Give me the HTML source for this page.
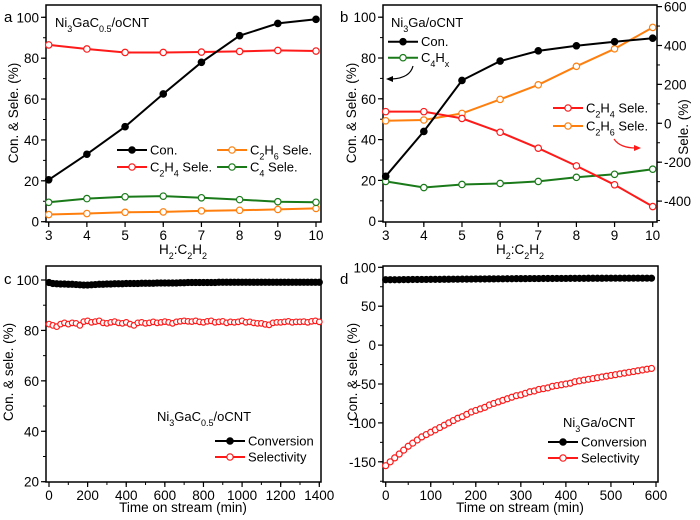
<!DOCTYPE html>
<html><head><meta charset="utf-8"><style>
body{margin:0;background:#fff;}
svg{display:block;font-family:"Liberation Sans",Arial,sans-serif;}
</style></head><body>
<svg id="s" width="700" height="520"></svg>
<script>
// ---- Panel a data ----
const ratios = [3,4,5,6,7,8,9,10];
const aCon = [20.5,33,46.5,62.5,78,91,97,99];
const aC2H4 = [86.5,84.5,82.8,82.8,83,83.3,83.8,83.5];
const aC2H6 = [3.5,4,4.6,4.8,5.3,5.6,6,6.5];
const aC4 = [9.5,11.3,12.2,12.5,11.7,10.8,9.8,9.5];
const aYTicks = [0,20,40,60,80,100];
// ---- Panel b data ----
const bCon = [22,44,69,78.5,83.5,86,88,89.7];
const bC4Hx = [19.5,16.5,18,18.5,19.5,21.5,23,25.5];
const bC2H4 = [60,60,25,-46,-128,-219,-316,-428];
const bC2H6 = [13,17,51,123,198,293,383,493];
const bYTicks = [0,20,40,60,80,100];
const bRTicks = [-400,-200,0,200,400,600];
// ---- Panel c data ----
const cTime = [0,20,40,60,80,100,120,140,160,180,200,220,240,260,280,300,320,340,360,380,400,420,440,460,480,500,520,540,560,580,600,620,640,660,680,700,720,740,760,780,800,820,840,860,880,900,920,940,960,980,1000,1020,1040,1060,1080,1100,1120,1140,1160,1180,1200,1220,1240,1260,1280,1300,1320,1340,1360,1380,1400];
const cConv = [99,98.6,98.5,98.4,98.4,98.3,98.3,98.2,98.1,98,98,98.1,98.2,98.3,98.3,98.4,98.4,98.5,98.5,98.5,98.6,98.6,98.6,98.6,98.7,98.7,98.7,98.7,98.8,98.8,98.8,98.8,98.8,98.8,98.9,98.9,99,99,99,99,99,99,99,99,99.1,99.1,99.1,99.1,99.1,99.1,99.1,99.1,99.1,99.1,99.1,99.1,99.1,99.1,99.1,99.1,99.1,99.1,99.1,99.1,99.1,99.1,99.1,99.1,99.1,99.1,99.1];
const cSel = [82.5,82,81.5,82.5,83,82.5,83,82.8,82,83.5,83.8,83.2,83.5,83.8,83,82.8,83.2,83.5,83,82.8,83.2,82.5,82,83,83.2,82.8,83,83.4,83,83.2,83.5,83.2,82.8,83.4,83.6,83.8,83.6,83.5,83.8,83.4,83.2,83.6,83.8,83.2,83.4,83.6,83,83.4,83.2,83.4,83.8,83.2,83.4,83,82.8,82.8,82.4,82.2,83,83.2,83.2,83.4,83.6,83.2,83.4,83.4,83.5,83.2,83.6,83.8,83.4];
const cYTicks = [20,40,60,80,100];
const cXTicks = [0,200,400,600,800,1000,1200,1400];
// ---- Panel d data ----
const dTime = [0,10,20,30,40,50,60,70,80,90,100,110,120,130,140,150,160,170,180,190,200,210,220,230,240,250,260,270,280,290,300,310,320,330,340,350,360,370,380,390,400,410,420,430,440,450,460,470,480,490,500,510,520,530,540,550,560,570,580,590];
const dConv = [84,84,84,84,84.2,84.2,84.3,84.3,84.4,84.4,84.5,84.5,84.5,84.6,84.6,84.7,84.7,84.8,84.8,84.9,85,85,85,85.1,85.1,85.2,85.2,85.3,85.3,85.4,85.4,85.4,85.5,85.5,85.5,85.6,85.6,85.6,85.7,85.7,85.7,85.8,85.8,85.8,85.8,85.9,85.9,85.9,85.9,86,86,86,86,86,86,86,86,86,86,86];
const dSel = [-155,-150,-145,-140,-135,-130,-126,-122,-118,-115,-112,-109,-106,-103,-100,-97,-94,-92,-89,-86,-84,-82,-80,-77,-75,-73,-71,-69,-67,-65,-64,-62,-60,-59,-57,-56,-55,-53,-52,-51,-50,-49,-47,-46,-45,-44,-43,-42,-41,-40,-39,-38,-37,-36,-35,-34,-33,-32,-31,-30];
const dYTicks = [-150,-100,-50,0,50,100];
const dXTicks = [0,100,200,300,400,500,600];

const NS="http://www.w3.org/2000/svg";
const S=document.getElementById('s');
function mk(tag,at,parent){const e=document.createElementNS(NS,tag);for(const k in at)e.setAttribute(k,at[k]);(parent||S).appendChild(e);return e;}
function txt(x,y,html,o){o=o||{};const t=mk('text',{x:x,y:y,'font-size':o.fs||13.5,'text-anchor':o.anchor||'start',fill:o.fill||'#000'});if(o.rot)t.setAttribute('transform','rotate('+o.rot+' '+x+' '+y+')');t.innerHTML=html;return t;}

const aX=v=>48.7+(v-3)*(267.3/7), aY=v=>221.7-v*2.044;
const bX=v=>385.7+(v-3)*(267/7), bY=v=>221.2-v*2.04, bR=v=>123.3-v*0.1945;
const cX=v=>49+v*(270.3/1400), cY=v=>481.7-(v-20)*(201.7/80);
const dX=v=>385.7+v*(270.3/600), dY=v=>267.3-(v-100)*0.778;

function box(x1,y1,x2,y2,name){const r=mk('rect',{x:x1,y:y1,width:x2-x1,height:y2-y1,fill:'none',stroke:'#000','stroke-width':1.5});
}
function xticks(vals,sx,yb,minorStep,lo,hi,name){
  for(let v=lo;v<=hi+1e-9;v+=minorStep){mk('line',{x1:sx(v),x2:sx(v),y1:yb,y2:yb+3,stroke:'#000','stroke-width':1});}
  vals.forEach(v=>{mk('line',{x1:sx(v),x2:sx(v),y1:yb,y2:yb+5,stroke:'#000','stroke-width':1.2});
    const t=txt(sx(v),yb+18,String(v),{anchor:'middle'});});
}
function yticks(vals,sy,xl,minorStep,lo,hi,name,right){
  const d=right?1:-1;
  for(let v=lo;v<=hi+1e-9;v+=minorStep){mk('line',{x1:xl,x2:xl+3*d,y1:sy(v),y2:sy(v),stroke:'#000','stroke-width':1});}
  vals.forEach(v=>{mk('line',{x1:xl,x2:xl+5*d,y1:sy(v),y2:sy(v),stroke:'#000','stroke-width':1.2});
    const t=txt(right?xl+7:xl-7,sy(v)+5,String(v),{anchor:right?'start':'end'});});
}
function series(xs,ys,sx,sy,color,filled,name,r,lw){
  const g=mk('g',{});
  const pts=xs.map((x,i)=>sx(x).toFixed(1)+','+sy(ys[i]).toFixed(1)).join(' ');
  mk('polyline',{points:pts,fill:'none',stroke:color,'stroke-width':lw||2},g);
  xs.forEach((x,i)=>{const c=mk('circle',{cx:sx(x),cy:sy(ys[i]),r:r||3.2,fill:filled?color:'#fff',stroke:color,'stroke-width':1.2},g);
    });
}
function legend(x,y,color,filled,label,name){
  const g=mk('g',{});
  mk('line',{x1:x,x2:x+30,y1:y,y2:y,stroke:color,'stroke-width':2},g);
  mk('circle',{cx:x+15,cy:y,r:3.2,fill:filled?color:'#fff',stroke:color,'stroke-width':1.2},g);
  const t=txt(x+33,y+4.5,label,{fs:13});g.appendChild(t);
}
const sub=s=>'<tspan font-size="9" baseline-shift="sub">'+s+'</tspan>';

// ===== Panel a =====
box(46,5,321,222,'panel-a-plot-area');
xticks(ratios,aX,222,1,3,10,'a-x');
yticks(aYTicks,aY,46,10,0,100,'a-y');
txt(4,22,'a',{fs:15});
txt(55,27,'Ni'+sub('3')+'GaC'+sub('0.5')+'/oCNT',{fs:13});
txt(183,254,'H'+sub('2')+':C'+sub('2')+'H'+sub('2'),{anchor:'middle'});
txt(18,113,'Con. &amp; Sele. (%)',{anchor:'middle',rot:-90});
series(ratios,aC2H6,aX,aY,'#ff7f0e',false,'a-c2h6-series');
series(ratios,aC4,aX,aY,'#1a7a1a',false,'a-c4-series');
series(ratios,aC2H4,aX,aY,'#ff1a1a',false,'a-c2h4-series');
series(ratios,aCon,aX,aY,'#000',true,'a-conversion-series');
legend(117,150,'#000',true,'Con.','a-legend-con');
legend(217,150,'#ff7f0e',false,'C'+sub('2')+'H'+sub('6')+' Sele.','a-legend-c2h6');
legend(117,167,'#ff1a1a',false,'C'+sub('2')+'H'+sub('4')+' Sele.','a-legend-c2h4');
legend(217,167,'#1a7a1a',false,'C'+sub('4')+' Sele.','a-legend-c4');

// ===== Panel b =====
box(383,5,657,222,'panel-b-plot-area');
xticks(ratios,bX,222,1,3,10,'b-x');
yticks(bYTicks,bY,383,10,0,100,'b-y');
yticks(bRTicks,bR,657,100,-500,600,'b-right-y',true);
txt(340,22,'b',{fs:15});
txt(391,27,'Ni'+sub('3')+'Ga/oCNT',{fs:13});
txt(520,254,'H'+sub('2')+':C'+sub('2')+'H'+sub('2'),{anchor:'middle'});
txt(356,113,'Con. &amp; Sele. (%)',{anchor:'middle',rot:-90});
txt(688,127,'Sele. (%)',{anchor:'middle',rot:-90});
series(ratios,bC4Hx,bX,bY,'#1a7a1a',false,'b-c4hx-series');
series(ratios,bC2H6,bX,bR,'#ff7f0e',false,'b-c2h6-series');
series(ratios,bC2H4,bX,bR,'#ff1a1a',false,'b-c2h4-series');
series(ratios,bCon,bX,bY,'#000',true,'b-conversion-series');
legend(388,41.7,'#000',true,'Con.','b-legend-con');
legend(388,57.7,'#1a7a1a',false,'C'+sub('4')+'H'+sub('x'),'b-legend-c4hx');
legend(553,108,'#ff1a1a',false,'C'+sub('2')+'H'+sub('4')+' Sele.','b-legend-c2h4');
legend(553,126,'#ff7f0e',false,'C'+sub('2')+'H'+sub('6')+' Sele.','b-legend-c2h6');
mk('path',{d:'M413,66 Q410,78 392,79',fill:'none',stroke:'#000','stroke-width':1.2});
mk('path',{d:'M386,79 l7,-3 l0,6 z',fill:'#000'});
mk('path',{d:'M614,139 Q620,148 636,148',fill:'none',stroke:'#ff1a1a','stroke-width':1.2});
mk('path',{d:'M641,148 l-7,-3 l0,6 z',fill:'#ff1a1a'});

// ===== Panel c =====
box(46,266,321,482,'panel-c-plot-area');
xticks(cXTicks,cX,482,100,0,1400,'c-x');
yticks(cYTicks,cY,46,10,20,100,'c-y');
txt(4,284,'c',{fs:15});
txt(183,512,'Time on stream (min)',{anchor:'middle'});
txt(13,372,'Con. &amp; sele. (%)',{anchor:'middle',rot:-90});
series(cTime,cConv,cX,cY,'#000',true,'c-conversion-series',3,2.5);
series(cTime,cSel,cX,cY,'#ff1a1a',false,'c-selectivity-series',2.8,1);
txt(157,421,'Ni'+sub('3')+'GaC'+sub('0.5')+'/oCNT',{fs:13});
legend(215,441,'#000',true,'Conversion','c-legend-conversion');
legend(215,457,'#ff1a1a',false,'Selectivity','c-legend-selectivity');

// ===== Panel d =====
box(383,266,658,482,'panel-d-plot-area');
xticks(dXTicks,dX,482,50,0,600,'d-x');
yticks(dYTicks,dY,383,25,-175,100,'d-y');
txt(340,284,'d',{fs:15});
txt(520,512,'Time on stream (min)',{anchor:'middle'});
txt(357,372,'Con. &amp; sele. (%)',{anchor:'middle',rot:-90});
series(dTime,dConv,dX,dY,'#000',true,'d-conversion-series',3,2.5);
series(dTime,dSel,dX,dY,'#ff1a1a',false,'d-selectivity-series',3,1);
txt(563,427,'Ni'+sub('3')+'Ga/oCNT',{fs:13});
legend(548,442,'#000',true,'Conversion','d-legend-conversion');
legend(548,458,'#ff1a1a',false,'Selectivity','d-legend-selectivity');
</script>
</body></html>
